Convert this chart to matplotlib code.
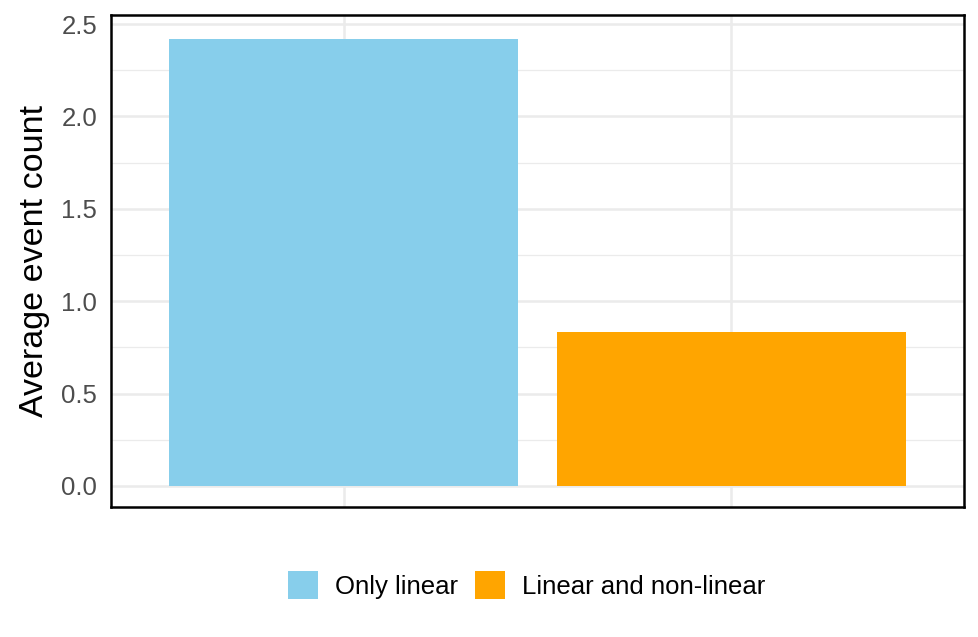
import matplotlib.pyplot as plt
from matplotlib.patches import Patch

# data
categories = ['Only linear', 'Linear and non-linear']
values = [2.419, 0.833]
colors = ['#87CEEB', '#FFA500']
yticks = [0.0, 0.5, 1.0, 1.5, 2.0, 2.5]

plt.rcParams['font.family'] = ['Liberation Sans', 'DejaVu Sans']

fig = plt.figure(figsize=(9.79, 6.37), dpi=100)
ax = fig.add_axes([111/979, 130/637, 853/979, 492/637])

x = [1, 2]
ax.bar(x, values, width=0.9, color=colors, zorder=3)

ax.set_xlim(0.4, 2.6)
ax.set_ylim(-0.114, 2.549)
ax.set_yticks(yticks)
ax.set_yticklabels([f'{v:.1f}' for v in yticks])
ax.set_yticks([0.25, 0.75, 1.25, 1.75, 2.25], minor=True)
ax.set_xticks(x)
ax.set_xticklabels([])

ax.grid(True, which='major', color='#EBEBEB', linewidth=1.8, zorder=0)
ax.grid(True, which='minor', axis='y', color='#EBEBEB', linewidth=0.9, zorder=0)
ax.tick_params(axis='both', which='both', length=0, labelsize=18.5,
               labelcolor='#4D4D4D', pad=10)
for s in ax.spines.values():
    s.set_linewidth(1.8)
    s.set_color('black')

ax.set_ylabel('Average event count', fontsize=24.5, color='black', labelpad=8)

handles = [Patch(facecolor=c, edgecolor='none') for c in colors]
fig.legend(handles, categories, loc='center', bbox_to_anchor=(527/979, 1 - 585/637),
           ncol=2, frameon=False, fontsize=18.5, handlelength=1.17, handleheight=1.32,
           handletextpad=0.66, columnspacing=0.66, borderpad=0)

fig.savefig('out.png', dpi=100)
